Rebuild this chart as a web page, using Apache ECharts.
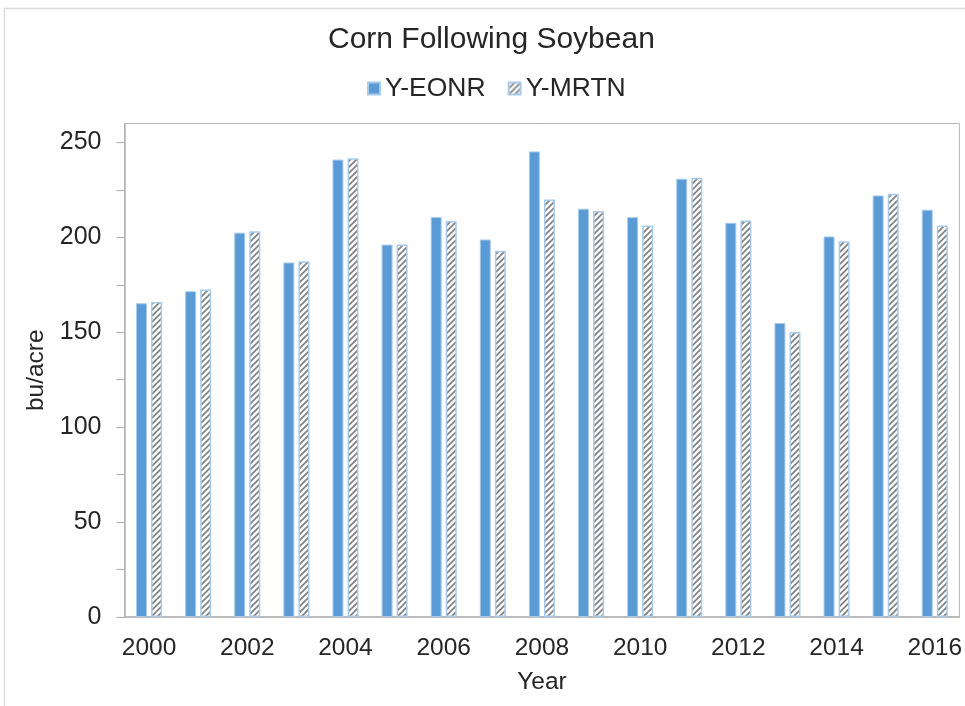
<!DOCTYPE html>
<html>
<head>
<meta charset="utf-8">
<script src="https://cdn.jsdelivr.net/npm/echarts@6/dist/echarts.min.js"></script>
<style>
  html, body { margin: 0; padding: 0; background: #fff; }
  #chart { width: 965px; height: 706px; }
</style>
</head>
<body>
<div id="chart"></div>
<script>
// Yield at economic optimum N rate vs. MRTN rate, corn after soybean
const years = ['2000','2001','2002','2003','2004','2005','2006','2007','2008',
               '2009','2010','2011','2012','2013','2014','2015','2016'];
const yEONR = [165.3, 171.6, 202.5, 186.8, 241.0, 196.2, 210.7, 198.9, 245.3,
               215.1, 210.7, 230.9, 207.7, 154.9, 200.5, 222.1, 214.6];
const yMRTN = [166.0, 172.6, 203.2, 187.4, 241.7, 196.2, 208.6, 193.0, 220.0,
               213.9, 206.3, 231.4, 208.9, 150.2, 197.9, 223.0, 206.3];
const yTickValues = [0, 25, 50, 75, 100, 125, 150, 175, 200, 225, 250];
const yLabelValues = [0, 50, 100, 150, 200, 250];

// Diagonal hatch tile for the MRTN bars
function hatchTile() {
  const s = 6;
  const c = document.createElement('canvas');
  c.width = s; c.height = s;
  const g = c.getContext('2d');
  g.fillStyle = '#ffffff';
  g.fillRect(0, 0, s, s);
  g.strokeStyle = '#808080';
  g.lineWidth = 1.7;
  g.beginPath();
  g.moveTo(0, s); g.lineTo(s, 0);
  g.moveTo(-1, 1); g.lineTo(1, -1);
  g.moveTo(s - 1, s + 1); g.lineTo(s + 1, s - 1);
  g.stroke();
  return c;
}

const axisGray = '#b3b3b3';
const textColor = '#262626';
const font = 'Liberation Sans, Arial, Helvetica, sans-serif';

const chart = echarts.init(document.getElementById('chart'), null, { renderer: 'canvas' });
chart.setOption({
  animation: false,
  backgroundColor: '#ffffff',
  textStyle: { fontFamily: font },
  title: {
    text: 'Corn Following Soybean',
    left: 323,
    top: 20,
    textStyle: { fontSize: 30, fontWeight: 'normal', color: textColor, fontFamily: font }
  },
  legend: {
    left: 362,
    top: 70,
    itemWidth: 12,
    itemHeight: 12,
    itemGap: 22,
    icon: 'rect',
    textStyle: { fontSize: 26.5, color: textColor, fontFamily: font },
    data: ['Y-EONR', 'Y-MRTN']
  },
  grid: {
    left: 124.5,
    right: 4,
    top: 123.5,
    bottom: 89,
    show: true,
    borderColor: axisGray,
    borderWidth: 1,
    backgroundColor: 'transparent'
  },
  xAxis: {
    type: 'category',
    data: years,
    name: 'Year',
    nameLocation: 'middle',
    nameGap: 53,
    nameTextStyle: { fontSize: 24.5, color: textColor, fontFamily: font },
    axisLine: { lineStyle: { color: axisGray, width: 1.5 } },
    axisTick: { show: false },
    axisLabel: { interval: 1, fontSize: 24.5, color: textColor, margin: 19, fontFamily: font },
    splitLine: { show: false }
  },
  yAxis: {
    type: 'value',
    min: 0,
    max: 260,
    interval: 50,
    name: 'bu/acre',
    nameLocation: 'middle',
    nameGap: 66,
    nameTextStyle: { fontSize: 24.5, color: textColor, fontFamily: font },
    axisLine: { show: true, lineStyle: { color: axisGray, width: 1.5 } },
    axisTick: { show: true, length: 8, inside: false, customValues: yTickValues,
                lineStyle: { color: axisGray, width: 1.2 } },
    axisLabel: { fontSize: 25, color: textColor, margin: 23, fontFamily: font,
                 customValues: yLabelValues },
    splitLine: { show: false }
  },
  graphic: [{
    type: 'rect',
    silent: true,
    shape: { x: 4.5, y: 8.5, width: 2000, height: 2000 },
    style: { fill: 'none', stroke: '#dcdcdc', lineWidth: 1.5 }
  }],
  series: [
    {
      name: 'Y-EONR',
      type: 'bar',
      data: yEONR,
      barWidth: 11,
      barGap: '37%',
      itemStyle: { color: '#5b9bd5', borderColor: '#a8cbec', borderWidth: 1 }
    },
    {
      name: 'Y-MRTN',
      type: 'bar',
      data: yMRTN,
      barWidth: 11,
      itemStyle: {
        color: { image: hatchTile(), repeat: 'repeat' },
        borderColor: '#a8cbec',
        borderWidth: 1.5
      }
    }
  ]
});
</script>
</body>
</html>
